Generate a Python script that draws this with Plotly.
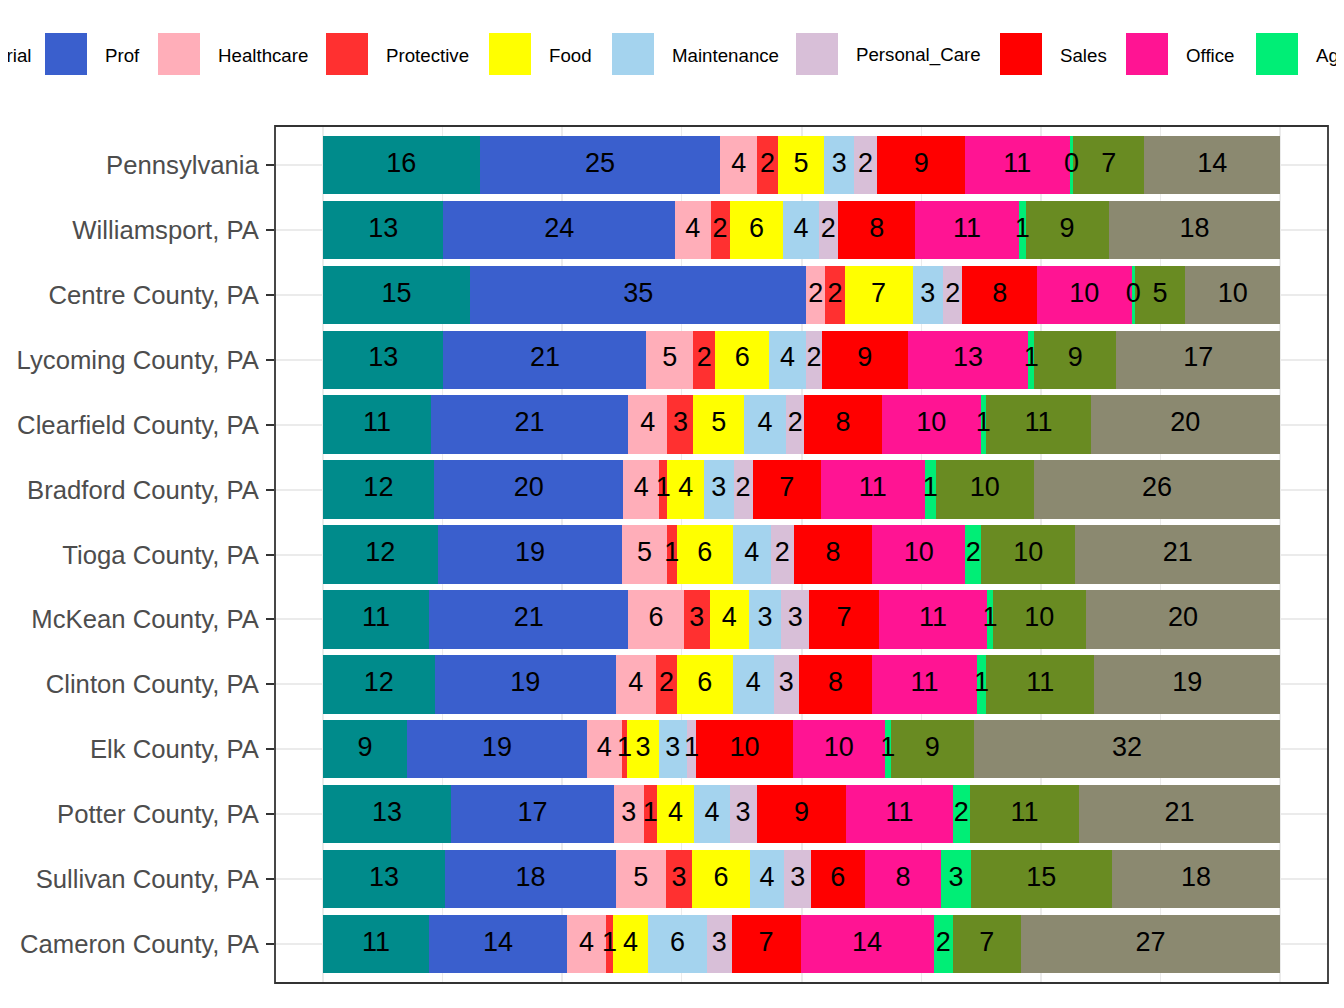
import plotly.graph_objects as go
import numpy as np

# ---------------- data ----------------
regions = ["Pennsylvania", "Williamsport, PA", "Centre County, PA", "Lycoming County, PA",
           "Clearfield County, PA", "Bradford County, PA", "Tioga County, PA",
           "McKean County, PA", "Clinton County, PA", "Elk County, PA",
           "Potter County, PA", "Sullivan County, PA", "Cameron County, PA"]

categories = ["Managerial", "Prof", "Healthcare", "Protective", "Food", "Maintenance",
              "Personal_Care", "Sales", "Office", "Agriculture", "Construction", "Production"]

managerial    = [16.4, 12.6, 15.4, 12.6, 11.3, 11.6, 12.0, 11.1, 11.7, 8.8, 13.4, 12.8, 11.1]
prof          = [25.1, 24.2, 35.1, 21.2, 20.6, 19.8, 19.3, 20.8, 18.9, 18.8, 17.0, 17.8, 14.4]
healthcare    = [3.9, 3.7, 2.0, 4.9, 4.1, 3.7, 4.6, 5.8, 4.2, 3.6, 3.1, 5.2, 4.1]
protective    = [2.1, 2.0, 2.0, 2.3, 2.7, 0.9, 1.1, 2.7, 2.2, 0.6, 1.4, 2.8, 0.7]
food          = [4.9, 5.6, 7.1, 5.6, 5.3, 3.8, 5.8, 4.1, 5.8, 3.3, 3.9, 6.0, 3.7]
maintenance   = [3.1, 3.7, 3.2, 3.9, 4.4, 3.1, 4.0, 3.4, 4.3, 2.9, 3.7, 3.6, 6.1]
personal_care = [2.4, 2.0, 2.0, 1.6, 1.9, 2.0, 2.4, 2.9, 2.6, 1.0, 2.8, 2.8, 2.6]
sales         = [9.2, 8.1, 7.8, 9.0, 8.1, 7.1, 8.2, 7.3, 7.7, 10.1, 9.4, 5.6, 7.2]
office        = [10.9, 10.8, 9.9, 12.6, 10.3, 10.9, 9.7, 11.3, 10.9, 9.6, 11.1, 8.0, 13.9]
agriculture   = [0.4, 0.7, 0.3, 0.6, 0.6, 1.1, 1.7, 0.6, 1.0, 0.6, 1.8, 3.1, 2.0]
construction  = [7.4, 8.7, 5.3, 8.6, 10.9, 10.3, 9.8, 9.7, 11.3, 8.7, 11.4, 14.7, 7.1]
production    = [14.2, 17.9, 9.9, 17.1, 19.8, 25.7, 21.4, 20.3, 19.4, 32.0, 21.0, 17.6, 27.1]

series = [managerial, prof, healthcare, protective, food, maintenance,
          personal_care, sales, office, agriculture, construction, production]

# ---------------- styling ----------------
colors = ["#008B8B", "#3A5FCD", "#FFAEB9", "#FF3030", "#FFFF00", "#A4D3EE",
          "#D8BFD8", "#FF0000", "#FF1493", "#00EE76", "#698B22", "#8B8970"]

FONT = "Liberation Sans, Arial, sans-serif"
PAGE_W, PAGE_H = 1344, 1008
OFF = 8                       # default page margin around the plot div
W, H = PAGE_W - OFF, PAGE_H - OFF
# plot panel in page pixels: x 275..1328, y 126..983
ML, MR, MT, MB = 275 - OFF, PAGE_W - 1328, 126 - OFF, PAGE_H - 983
PW, PH = W - ML - MR, H - MT - MB


def px_x(p):
    """page pixel x -> paper coordinate"""
    return (p - OFF - ML) / PW


def px_y(p):
    """page pixel y -> paper coordinate"""
    return (H - MB - (p - OFF)) / PH


# legend layout (left edge of each swatch, in page pixels); entries that
# would start beyond the page edge are not drawn (as in the reference)
legend_swatch_left = [-121, 45, 158, 326, 489, 612, 796, 1000, 1126, 1256]
SW = 42
SW_TOP, SW_BOT = 33, 75

fig = go.Figure()

for name, vals, col in zip(categories, series, colors):
    fig.add_trace(go.Bar(
        y=regions, x=vals, orientation="h", name=name,
        marker=dict(color=col, line=dict(width=0)),
        showlegend=False,
        hovertemplate=name + ": %{x:.1f}<extra>%{y}</extra>",
    ))

# centred value labels on top of every segment
cum = np.zeros(len(regions))
lab_x, lab_y, lab_t = [], [], []
for vals in series:
    v = np.array(vals, dtype=float)
    mid = cum + v / 2
    lab_x.extend(mid.tolist())
    lab_y.extend(regions)
    lab_t.extend([f"{val:.0f}" for val in v])
    cum += v

fig.add_trace(go.Scatter(
    x=lab_x, y=lab_y, text=lab_t, mode="text",
    textposition="middle center",
    textfont=dict(size=27, color="black", family=FONT),
    showlegend=False, hoverinfo="skip", cliponaxis=False,
))

shapes = []
annotations = []
for name, col, left in zip(categories, colors, legend_swatch_left):
    shapes.append(dict(
        type="rect", xref="paper", yref="paper",
        x0=px_x(left), x1=px_x(left + SW), y0=px_y(SW_BOT), y1=px_y(SW_TOP),
        fillcolor=col, line=dict(width=0), layer="above",
    ))
    annotations.append(dict(
        xref="paper", yref="paper", x=px_x(left + SW + 16), y=px_y(55.5),
        xanchor="left", yanchor="middle", showarrow=False, text=name,
        font=dict(size=18.7, color="black", family=FONT),
    ))

# panel border
shapes.append(dict(type="rect", xref="paper", yref="paper", x0=0, x1=1, y0=0, y1=1,
                   line=dict(color="#333333", width=1.8), fillcolor="rgba(0,0,0,0)",
                   layer="above"))

fig.update_layout(
    width=W, height=H,
    margin=dict(l=ML, r=MR, t=MT, b=MB, autoexpand=False),
    barmode="stack", bargap=0.1,
    paper_bgcolor="white", plot_bgcolor="white",
    font=dict(family=FONT),
    showlegend=False,
    shapes=shapes, annotations=annotations,
    xaxis=dict(
        range=[-5, 105], tick0=0, dtick=25, showticklabels=False, ticks="",
        showgrid=True, gridcolor="#EBEBEB", gridwidth=1.8, zeroline=False,
        showline=False,
        minor=dict(tick0=0, dtick=12.5, showgrid=True, gridcolor="#EBEBEB", gridwidth=0.9),
    ),
    yaxis=dict(
        type="category", categoryorder="array", categoryarray=regions,
        range=[len(regions) - 0.4, -0.6],
        ticks="outside", ticklen=8, tickwidth=2, tickcolor="#333333",
        tickfont=dict(size=25.7, color="#4D4D4D", family=FONT),
        ticklabelstandoff=2,
        showgrid=True, gridcolor="#EBEBEB", gridwidth=1.8, zeroline=False,
        showline=False,
    ),
)

fig.write_html("out.html")
